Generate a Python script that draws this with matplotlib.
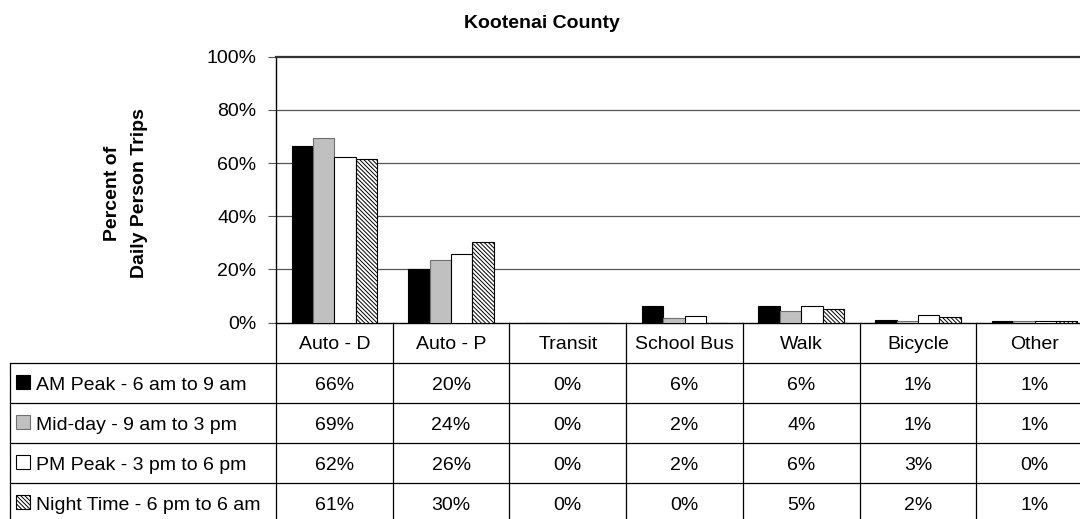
import matplotlib
matplotlib.use('Agg')
import matplotlib.pyplot as plt
from matplotlib import transforms
from matplotlib.patches import Rectangle
import numpy as np

# ---------------- data ----------------
categories = ['Auto - D', 'Auto - P', 'Transit', 'School Bus', 'Walk', 'Bicycle', 'Other']
series_names = ['AM Peak - 6 am to 9 am', 'Mid-day - 9 am to 3 pm',
                'PM Peak - 3 pm to 6 pm', 'Night Time - 6 pm to 6 am']
am_peak = [66.4, 20.2, 0.0, 6.1, 6.1, 1.1, 0.7]
mid_day = [69.3, 23.6, 0.0, 1.6, 4.4, 0.6, 0.7]
pm_peak = [62.4, 25.8, 0.0, 2.4, 6.1, 3.0, 0.4]
night_time = [61.4, 30.4, 0.0, 0.0, 5.2, 2.0, 0.7]
y_ticks = [0, 20, 40, 60, 80, 100]
title = 'Kootenai County'
ylabel = 'Percent of\nDaily Person Trips'

series = [am_peak, mid_day, pm_peak, night_time]

# ---------------- style ----------------
plt.rcParams['font.family'] = ['Liberation Sans', 'DejaVu Sans']
plt.rcParams['hatch.linewidth'] = 0.7
faces = ['black', '#C0C0C0', 'white', 'white']
edges = ['black', '#707070', 'black', 'black']
hatches = [None, None, None, '\\\\\\\\\\\\\\\\']
FS = 14

W, H = 1080, 519
fig = plt.figure(figsize=(W / 100, H / 100), dpi=100)


def fx(px):
    return px / W


def fy(py):
    return 1 - py / H


ax = fig.add_axes([fx(276), fy(322.5), fx(1093) - fx(276), fy(56.7) - fy(322.5)])
x = np.arange(len(categories))
bw = 0.183
for i, vals in enumerate(series):
    ax.bar(x + (i - 1.5) * bw, vals, bw, color=faces[i], edgecolor=edges[i],
           linewidth=0.8, hatch=hatches[i], zorder=3)

ax.set_xlim(-0.5, len(categories) - 0.5)
ax.set_ylim(0, 100)
ax.set_yticks(y_ticks)
ax.set_yticklabels([f'{t}%' for t in y_ticks], fontsize=FS)
ax.set_xticks([])
ax.tick_params(axis='y', length=6, width=0.8, color='#555555', pad=8)
for t in y_ticks[1:-1]:
    ax.axhline(t, color='#555555', lw=0.9, zorder=1)
ax.spines['left'].set_color('black')
ax.spines['left'].set_linewidth(1.0)
ax.spines['bottom'].set_color('black')
ax.spines['bottom'].set_linewidth(1.0)
ax.spines['top'].set_color('#333333')
ax.spines['top'].set_linewidth(1.6)
ax.spines['right'].set_visible(False)

fig.text(fx(542), fy(24), title, fontsize=FS, fontweight='bold', ha='center', va='center')
fig.text(fx(126), fy(193), ylabel, fontsize=FS, fontweight='bold', ha='center', va='center',
         rotation=90, linespacing=1.75)

# ---------------- data table ----------------
blend = transforms.blended_transform_factory(ax.transData, fig.transFigure)
row_tops = [363, 403, 443, 483, 523]
header_top = 322.5
lc = 'black'
lw = 0.9
# horizontal lines
for yy in row_tops[:-1]:
    fig.add_artist(plt.Line2D([fx(10), 1.0], [fy(yy), fy(yy)], color=lc, lw=lw))
# vertical lines
for k in range(len(categories) + 1):
    fig.add_artist(plt.Line2D([k - 0.5, k - 0.5], [fy(header_top), fy(row_tops[-1])],
                              transform=blend, color=lc, lw=lw))
fig.add_artist(plt.Line2D([fx(10), fx(10)], [fy(row_tops[0]), fy(row_tops[-1])], color=lc, lw=lw))

# category labels
for k, c in enumerate(categories):
    fig.text(k, fy((header_top + row_tops[0]) / 2), c, transform=blend, fontsize=FS,
             ha='center', va='center_baseline')

# rows
for i, (name, vals) in enumerate(zip(series_names, series)):
    yc = (row_tops[i] + row_tops[i + 1]) / 2
    ks = 14
    fig.add_artist(Rectangle((fx(16), fy(yc + ks / 2 - 1)), ks / W, ks / H,
                             facecolor=faces[i], edgecolor=edges[i], lw=0.8,
                             hatch=hatches[i], transform=fig.transFigure))
    fig.text(fx(36), fy(yc), name, fontsize=FS, ha='left', va='center_baseline')
    for k, v in enumerate(vals):
        fig.text(k, fy(yc), f'{v:.0f}%', transform=blend, fontsize=FS,
                 ha='center', va='center_baseline')

fig.savefig('out.png', dpi=100)
